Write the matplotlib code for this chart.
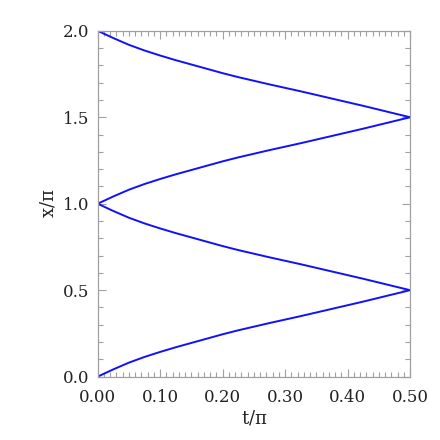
import numpy as np
import matplotlib
matplotlib.use("Agg")
import matplotlib.pyplot as plt
from matplotlib.ticker import MultipleLocator, FormatStrFormatter

# values, in units of pi
t = [0.0, 0.025, 0.05, 0.075, 0.1, 0.125, 0.15, 0.175, 0.2, 0.225, 0.25,
     0.275, 0.3, 0.325, 0.35, 0.375, 0.4, 0.425, 0.45, 0.475, 0.5]
x_low = [0.0, 0.042, 0.081, 0.114, 0.143, 0.170, 0.195, 0.220, 0.245, 0.268, 0.289,
         0.310, 0.330, 0.350, 0.371, 0.392, 0.413, 0.434, 0.456, 0.478, 0.5]
x_mid_down = [1.0, 0.958, 0.919, 0.886, 0.857, 0.830, 0.805, 0.780, 0.755, 0.732, 0.711,
              0.690, 0.670, 0.650, 0.629, 0.608, 0.587, 0.566, 0.544, 0.522, 0.5]
x_mid_up = [1.0, 1.042, 1.081, 1.114, 1.143, 1.170, 1.195, 1.220, 1.245, 1.268, 1.289,
            1.310, 1.330, 1.350, 1.371, 1.392, 1.413, 1.434, 1.456, 1.478, 1.5]
x_top = [2.0, 1.958, 1.919, 1.886, 1.857, 1.830, 1.805, 1.780, 1.755, 1.732, 1.711,
         1.690, 1.670, 1.650, 1.629, 1.608, 1.587, 1.566, 1.544, 1.522, 1.5]

plt.rcParams['font.family'] = ['DejaVu Serif']

fig = plt.figure(figsize=(4.4, 4.4), dpi=100)
ax = fig.add_axes([0.222, 0.144, 0.71, 0.786])

for ys in (x_low, x_mid_down, x_mid_up, x_top):
    ax.plot(t, ys, color='#1010ff', lw=1.4, solid_joinstyle='round')

ax.set_xlim(0, 0.5)
ax.set_ylim(0, 2.0)
ax.xaxis.set_major_locator(MultipleLocator(0.1))
ax.xaxis.set_minor_locator(MultipleLocator(0.01))
ax.yaxis.set_major_locator(MultipleLocator(0.5))
ax.yaxis.set_minor_locator(MultipleLocator(0.1))
ax.xaxis.set_major_formatter(FormatStrFormatter('%.2f'))
ax.yaxis.set_major_formatter(FormatStrFormatter('%.1f'))

tick_col = '#a0a0a0'
ax.tick_params(which='both', direction='in', top=True, right=True,
               color=tick_col, width=0.8, labelsize=12, labelcolor='#222222')
ax.tick_params(axis='x', which='major', length=6, pad=9)
ax.tick_params(axis='y', which='major', length=6, pad=6)
ax.tick_params(which='minor', length=3.5)
for s in ax.spines.values():
    s.set_color(tick_col)
    s.set_linewidth(0.9)

ax.set_xlabel(r'$\mathregular{t/\pi}$', fontsize=13, color='#222222', labelpad=2)
ax.set_ylabel(r'$\mathregular{x/\pi}$', fontsize=13, color='#222222', labelpad=4)

fig.savefig('out.png', dpi=100)
